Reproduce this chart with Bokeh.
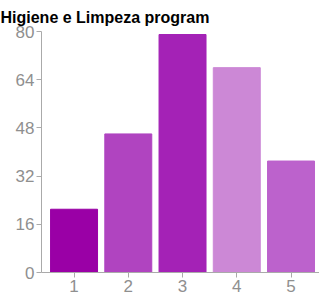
from bokeh.plotting import figure
from bokeh.models import Range1d, FixedTicker, ColumnDataSource
from bokeh.embed import file_html
from bokeh.resources import INLINE

categories = [1, 2, 3, 4, 5]
values = [21, 46, 79, 68, 37]
colors = ["#9a00a6", "#b044c0", "#a422b6", "#cc88d6", "#bc62cc"]
y_ticks = [0, 16, 32, 48, 64, 80]

src = ColumnDataSource(dict(x=categories, top=values, color=colors))

p = figure(width=319, height=298, output_backend="svg", toolbar_location=None,
           x_range=Range1d(0.4, 5.525), y_range=Range1d(0, 80),
           title="Higiene e Limpeza program")
p.min_border_left = 41
p.min_border_right = 0
p.min_border_bottom = 26
p.min_border_top = 31
p.outline_line_color = None
p.background_fill_color = "white"
p.border_fill_color = "white"

p.title.text_font = "Liberation Sans"
p.title.text_font_style = "bold"
p.title.text_font_size = "16px"
p.title.text_color = "#000000"
p.title.offset = -41
p.title.standoff = 11

p.vbar(x="x", top="top", width=0.866, color="color", source=src)

p.xgrid.visible = False
p.ygrid.visible = False

for ax in (p.xaxis, p.yaxis):
    ax.axis_line_color = "#aaaaaa"
    ax.major_tick_line_color = "#aaaaaa"
    ax.minor_tick_line_color = None
    ax.major_tick_in = 0
    ax.major_tick_out = 5
    ax.major_label_text_font = "Liberation Sans"
    ax.major_label_text_font_size = "17px"
    ax.major_label_text_color = "#8f8f8f"
    ax.major_label_standoff = 2

p.yaxis.ticker = FixedTicker(ticks=y_ticks)
p.xaxis.ticker = FixedTicker(ticks=categories)

open("out.html", "w").write(file_html(p, INLINE))
